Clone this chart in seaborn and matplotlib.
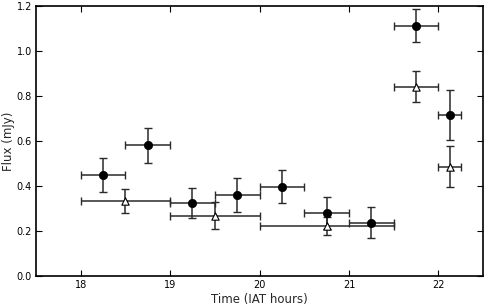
import matplotlib
matplotlib.use("Agg")
import matplotlib.pyplot as plt
import seaborn as sns
import pandas as pd

# filled circles (main series)
circ_time = [18.25, 18.75, 19.25, 19.75, 20.25, 20.75, 21.25, 21.75, 22.125]
circ_terr = [0.25, 0.25, 0.25, 0.25, 0.25, 0.25, 0.25, 0.25, 0.125]
circ_flux = [0.45, 0.58, 0.324, 0.36, 0.396, 0.28, 0.237, 1.112, 0.716]
circ_ferr = [0.075, 0.076, 0.068, 0.077, 0.073, 0.073, 0.068, 0.073, 0.112]

# open triangles (binned series)
tri_time = [18.5, 19.5, 20.75, 21.75, 22.125]
tri_terr = [0.5, 0.5, 0.75, 0.25, 0.125]
tri_flux = [0.332, 0.268, 0.222, 0.842, 0.486]
tri_ferr = [0.053, 0.06, 0.04, 0.068, 0.09]

sns.set_style("ticks")
plt.rcParams["font.family"] = ["DejaVu Sans"]

fig = plt.figure(figsize=(4.98, 3.08), dpi=100)
ax = fig.add_axes([0.0723, 0.104, 0.8977, 0.8765])

circ = pd.DataFrame({"t": circ_time, "f": circ_flux})
tri = pd.DataFrame({"t": tri_time, "f": tri_flux})

# error bars first, then markers on top
ax.errorbar(tri_time, tri_flux, xerr=tri_terr, yerr=tri_ferr, fmt="none",
            ecolor="#2a2a2a", elinewidth=1.1, capsize=3, capthick=1.0, zorder=2)
ax.errorbar(circ_time, circ_flux, xerr=circ_terr, yerr=circ_ferr, fmt="none",
            ecolor="#2a2a2a", elinewidth=1.1, capsize=3, capthick=1.0, zorder=2)

sns.scatterplot(data=tri, x="t", y="f", marker="^", s=28, color="white",
                edgecolor="black", linewidth=0.8, ax=ax, zorder=3)
sns.scatterplot(data=circ, x="t", y="f", marker="o", s=36, color="black",
                edgecolor="black", linewidth=0.5, ax=ax, zorder=4)

ax.set_xlim(17.5, 22.5)
ax.set_ylim(0.0, 1.2)
ax.set_xticks([18, 19, 20, 21, 22])
ax.set_yticks([0.0, 0.2, 0.4, 0.6, 0.8, 1.0, 1.2])
ax.set_yticklabels(["0.0", "0.2", "0.4", "0.6", "0.8", "1.0", "1.2"])
ax.tick_params(direction="in", top=True, right=True, length=4, width=0.8,
               labelsize=7, pad=3, colors="black")
for sp in ax.spines.values():
    sp.set_linewidth(1.2)
    sp.set_color("black")

ax.set_xlabel("Time (IAT hours)", fontsize=8.5, labelpad=2)
ax.set_ylabel("Flux (mJy)", fontsize=8.5, labelpad=1)

fig.savefig("out.png", dpi=100)
